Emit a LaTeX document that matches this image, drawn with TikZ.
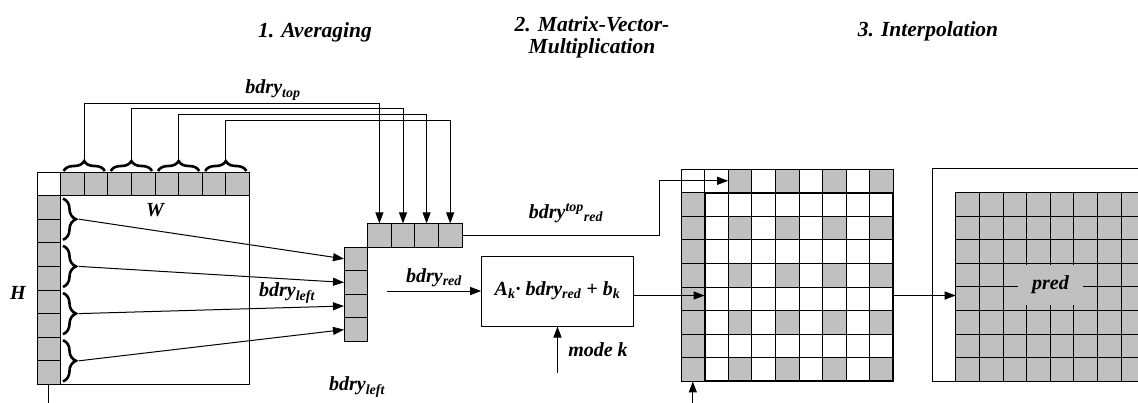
\documentclass[tikz,border=0pt]{standalone}
\usepackage{fontspec}
\setmainfont{Liberation Serif}
\usetikzlibrary{arrows.meta, decorations.pathreplacing}
\definecolor{cellgray}{RGB}{192,192,192}

\begin{document}
\begin{tikzpicture}[
  x=1pt, y=-1pt,
  cell/.style={draw, line width=0.8pt, minimum size=23.6pt, inner sep=0pt, outer sep=0pt},
  c0/.style={cell, fill=white},
  c1/.style={cell, fill=cellgray},
  lbl/.style={font={\fontsize{20}{22}\selectfont\bfseries\itshape}, inner sep=1pt},
  title/.style={font={\fontsize{21.5}{22}\selectfont\bfseries\itshape}, align=center},
  arrow/.style={-{Triangle[length=11pt,width=8pt]}, line width=1pt},
  brace/.style={decorate, decoration={brace, amplitude=#1}, line width=2.6pt},
  brace/.default=10pt
]
  \useasboundingbox (0,0) rectangle (1138,402);

  % Titles
  \node[title, anchor=base] (tavg) at (315,37) {1. Averaging};
  \node[title] (tmvm) at (592,37) {2. Matrix-Vector-\\Multiplication};
  \node[title, anchor=base] (tint) at (928,36) {3. Interpolation};

  % Input block with boundary
  \node[c0] (lcor) at (48.8,183.8) {};
  \foreach \i in {1,...,8} {
    \node[c1] (lt\i) at ({48.8+23.6*\i},183.8) {};
    \node[c1] (ll\i) at (48.8,{183.8+23.6*\i}) {};
  }
  \node[draw, line width=0.8pt, minimum size=188.8pt, inner sep=0pt, outer sep=0pt] (blk) at (155,290) {};
  \node[lbl] (wlbl) at (155,210) {W};
  \node[lbl] (hlbl) at (18,293) {H};
  \coordinate (lbot) at (48.8,405);
  \draw[line width=1pt] (lbot) -- (ll8.south);

  % Braces
  \foreach \k in {1,...,4} {
    \draw[brace] ({60.6+47.2*(\k-1)+3},171) -- ({60.6+47.2*\k-3},171);
    \coordinate (tb\k) at ({84.2+47.2*(\k-1)},160);
    \draw[brace=13pt] (63,{195.6+47.2*(\k-1)+3}) -- (63,{195.6+47.2*\k-3});
    \coordinate (lb\k) at (79,{219.2+47.2*(\k-1)});
  }

  % Reduced boundary
  \foreach \k in {1,...,4} {
    \node[c1] (sc\k) at (355.8,{258.8+23.6*(\k-1)}) {};
    \node[c1] (sr\k) at ({379.4+23.6*(\k-1)},235.2) {};
  }
  \foreach \k/\ly in {1/103.3, 2/108.9, 3/114.5, 4/120} {
    \draw[arrow] (tb\k) -- ++(0,\ly-160) -| (sr\k.north);
    \draw[arrow] (lb\k) -- (sc\k.west);
  }
  \node[lbl] (ltop) at (273,90) {bdry\textsubscript{top}};
  \node[lbl] (lleft) at (287,293) {bdry\textsubscript{left}};
  \node[lbl] (lleft2) at (357,387) {bdry\textsubscript{left}};

  % Matrix-vector multiplication
  \node[lbl, draw, line width=1pt, minimum width=151.6pt, minimum height=70pt, inner sep=0pt] (mvm) at (557.5,291) {A\textsubscript{k}· bdry\textsubscript{red} + b\textsubscript{k}};
  \coordinate (redin) at (387,291);
  \draw[arrow] (redin) -- (mvm.west);
  \node[lbl] (lred) at (434,278) {bdry\textsubscript{red}};
  \coordinate (modein) at (557.5,373);
  \draw[arrow] (modein) -- (mvm.south);
  \node[lbl] (lmode) at (598,350) {mode k};

  % Interpolation grid
  \foreach \i in {0,...,8} {
    \pgfmathtruncatemacro\gv{iseven(\i)*(\i>1)}
    \node[c\gv] (it\i) at ({692.8+23.6*\i},180.8) {};
  }
  \foreach \j in {1,...,8} {
    \node[c1] (il\j) at (692.8,{180.8+23.6*\j}) {};
    \foreach \i in {1,...,8} {
      \pgfmathtruncatemacro\gv{iseven(\i)*iseven(\j)}
      \node[c\gv] (ic\i\j) at ({692.8+23.6*\i},{180.8+23.6*\j}) {};
    }
  }
  \node[draw, line width=2pt, minimum size=188.8pt, inner sep=0pt, outer sep=0pt] (ig) at (799,287) {};
  \coordinate (ibot) at (692.8,405);
  \draw[arrow] (ibot) -- (il8.south);
  \draw[arrow] (sr4.east) -- ++(197,0) |- (it2.west);
  \node[lbl] (ltopred) at (566,213) {bdry\textsuperscript{top}\textsubscript{red}};

  % Prediction
  \node[draw, line width=1pt, minimum width=230pt, minimum height=212.7pt, inner sep=0pt, outer sep=0pt] (pbox) at (1047.3,275.3) {};
  \foreach \i in {1,...,8}
    \foreach \j in {1,...,8}
      \node[c1] (pc\i\j) at ({967.5+23.6*(\i-1)},{204.1+23.6*(\j-1)}) {};
  \node[lbl, fill=cellgray, minimum width=65pt, minimum height=40pt] (pred) at (1050.5,285) {pred};

  % Output arrows
  \coordinate (out) at ([yshift=-4.5pt]mvm.east);
  \draw[arrow] (out) -- (out -| ig.west);
  \draw[arrow] (out -| ig.east) -- (out -| pc11.west);
\end{tikzpicture}
\end{document}
